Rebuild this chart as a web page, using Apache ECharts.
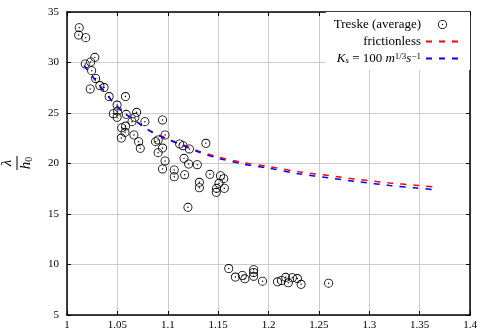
<!DOCTYPE html>
<html lang="en">
<head>
    <meta charset="UTF-8">
    <title>lambda over h0</title>
    <script src="https://cdn.jsdelivr.net/npm/echarts@6.0.0/dist/echarts.min.js"></script>
    <style>
        html, body { margin: 0; padding: 0; background: #fff; }
        #chart { width: 480px; height: 331px; }
    </style>
</head>
<body>
<div id="chart"></div>

<script>
    // measured points (Froude number, lambda / h0)
    var treskeX = [1.0121, 1.0116, 1.0186, 1.0181, 1.0235, 1.0276, 1.0245, 1.0284, 1.0230, 1.0326,
        1.0368, 1.0418, 1.0580, 1.0497, 1.0460, 1.0497, 1.0503, 1.0588, 1.0691, 1.0674,
        1.0645, 1.0543, 1.0582, 1.0576, 1.0539, 1.0664, 1.0773, 1.0711, 1.0727, 1.0948,
        1.0973, 1.0879, 1.0904, 1.0948, 1.0904, 1.0973, 1.1118, 1.1151, 1.1214, 1.1378,
        1.1161, 1.1207, 1.1293, 1.0948, 1.1064, 1.1064, 1.1168, 1.1200, 1.1313, 1.1313,
        1.1418, 1.1523, 1.1556, 1.1508, 1.1484, 1.1481, 1.1561,
        1.1605, 1.1671, 1.1740, 1.1765, 1.1852, 1.1851, 1.1852, 1.1940, 1.2089, 1.2128,
        1.2170, 1.2196, 1.2236, 1.2286, 1.2323, 1.2596];
    var treskeY = [33.45, 32.72, 32.46, 29.85, 30.05, 30.51, 29.19, 28.42, 27.38, 27.72,
        27.52, 26.63, 26.63, 25.79, 24.93, 24.57, 25.20, 24.87, 25.07, 24.57,
        24.14, 23.54, 23.71, 23.09, 22.52, 22.82, 24.14, 22.16, 21.50, 24.31,
        22.82, 22.16, 22.33, 21.53, 21.07, 20.25, 21.93, 21.76, 21.44, 22.00,
        20.51, 19.95, 19.88, 19.46, 19.36, 18.69, 18.89, 15.66, 18.14, 17.60,
        18.93, 18.79, 18.50, 18.04, 17.54, 17.15, 17.55,
        9.60, 8.76, 8.91, 8.58, 9.48, 9.21, 8.84, 8.35, 8.29, 8.42,
        8.73, 8.19, 8.69, 8.61, 8.04, 8.15];

    // theory curves
    var curveX = [1.017, 1.025, 1.035, 1.045, 1.055, 1.065, 1.075, 1.085, 1.1, 1.115,
        1.13, 1.15, 1.175, 1.2, 1.23, 1.26, 1.29, 1.32, 1.345, 1.366];
    var frictionlessY = [29.7, 28.65, 27.4, 26.15, 25.1, 24.45, 23.72, 23.1, 22.44, 21.85,
        21.25, 20.64, 20.08, 19.7, 19.18, 18.8, 18.42, 18.08, 17.85, 17.66];
    var ksY = [29.7, 28.65, 27.4, 26.15, 25.1, 24.44, 23.7, 23.07, 22.38, 21.78,
        21.16, 20.52, 19.94, 19.54, 18.98, 18.58, 18.18, 17.83, 17.59, 17.39];

    var xTicks = [1, 1.05, 1.1, 1.15, 1.2, 1.25, 1.3, 1.35, 1.4];
    var yTicks = [5, 10, 15, 20, 25, 30, 35];

    var serif = '"Liberation Serif", "DejaVu Serif", serif';
    // circle with a dot in the middle
    var dotCircle = 'path://M0,-10A10,10,0,1,1,0,10A10,10,0,1,1,0,-10Z' +
        'M0,-8.1A8.1,8.1,0,1,0,0,8.1A8.1,8.1,0,1,0,0,-8.1Z' +
        'M0,-1.6A1.6,1.6,0,1,1,0,1.6A1.6,1.6,0,1,1,0,-1.6Z';

    function pairs(xs, ys) {
        var out = [];
        for (var i = 0; i < xs.length; i++) {
            out.push([xs[i], ys[i]]);
        }
        return out;
    }

    var myChart = echarts.init(document.getElementById('chart'));
    var option = {
        animation: false,
        backgroundColor: '#fff',
        textStyle: {fontFamily: serif},
        grid: {left: 67, right: 7, top: 12, bottom: 16},
        xAxis: [{
            type: 'value',
            min: xTicks[0],
            max: xTicks[xTicks.length - 1],
            interval: 0.05,
            axisLine: {lineStyle: {color: '#000', width: 1.5}},
            axisTick: {inside: true, length: 4, lineStyle: {color: '#000'}},
            axisLabel: {color: '#000', fontSize: 11, fontFamily: serif, margin: 5},
            splitLine: {show: true, lineStyle: {color: '#cccccc', width: 1}}
        }, {
            type: 'value',
            position: 'top',
            min: xTicks[0],
            max: xTicks[xTicks.length - 1],
            interval: 0.05,
            axisLine: {lineStyle: {color: '#000', width: 1.5}},
            axisTick: {inside: true, length: 4, lineStyle: {color: '#000'}},
            axisLabel: {show: false},
            splitLine: {show: false}
        }],
        yAxis: [{
            type: 'value',
            min: yTicks[0],
            max: yTicks[yTicks.length - 1],
            interval: 5,
            axisLine: {show: true, lineStyle: {color: '#000', width: 1.5}},
            axisTick: {show: true, inside: true, length: 4, lineStyle: {color: '#000'}},
            axisLabel: {color: '#000', fontSize: 11, fontFamily: serif, margin: 8},
            splitLine: {show: true, lineStyle: {color: '#cccccc', width: 1}}
        }, {
            type: 'value',
            position: 'right',
            min: yTicks[0],
            max: yTicks[yTicks.length - 1],
            interval: 5,
            axisLine: {show: true, lineStyle: {color: '#000', width: 1.5}},
            axisTick: {show: true, inside: true, length: 4, lineStyle: {color: '#000'}},
            axisLabel: {show: false},
            splitLine: {show: false}
        }],
        legend: {
            data: [
                {name: 'Treske (average)'},
                {name: 'frictionless', itemStyle: {opacity: 0}},
                {name: 'Ks', itemStyle: {opacity: 0}}
            ],
            orient: 'vertical',
            align: 'right',
            right: 10,
            top: 12,
            padding: [6, 10, 5, 8],
            itemWidth: 33,
            itemHeight: 9,
            itemGap: 4,
            backgroundColor: '#fff',
            textStyle: {
                color: '#000', fontSize: 13, fontFamily: serif,
                rich: {
                    n: {fontSize: 13, fontFamily: serif, color: '#000'},
                    i: {fontSize: 13, fontFamily: serif, fontStyle: 'italic', color: '#000'},
                    sub: {fontSize: 9, fontFamily: serif, fontStyle: 'italic', color: '#000', verticalAlign: 'bottom'},
                    sup: {fontSize: 9, fontFamily: serif, color: '#000', verticalAlign: 'top'}
                }
            },
            formatter: function (name) {
                if (name === 'Ks') {
                    return '{i|K}{sub|s}{n| = 100 }{i|m}{sup|1/3}{i|s}{sup|−1}';
                }
                return name;
            }
        },
        graphic: [{
            type: 'group',
            x: 17,
            y: 163,
            rotation: Math.PI / 2,
            children: [{
                type: 'text',
                x: 0,
                y: -2,
                style: {text: 'λ', fontSize: 15, fontFamily: serif, fontStyle: 'italic',
                    fill: '#000', align: 'center', verticalAlign: 'bottom'}
            }, {
                type: 'line',
                shape: {x1: -7, y1: 0, x2: 7, y2: 0},
                style: {stroke: '#000', lineWidth: 1}
            }, {
                type: 'text',
                x: 0,
                y: 2,
                style: {
                    text: '{h|h}{s|0}',
                    align: 'center',
                    verticalAlign: 'top',
                    rich: {
                        h: {fontSize: 15, fontFamily: serif, fontStyle: 'italic', fill: '#000'},
                        s: {fontSize: 10, fontFamily: serif, fill: '#000', verticalAlign: 'bottom'}
                    }
                }
            }]
        }],
        series: [{
            name: 'Treske (average)',
            type: 'scatter',
            symbol: dotCircle,
            symbolSize: 9,
            itemStyle: {color: '#000', opacity: 1},
            data: pairs(treskeX, treskeY)
        }, {
            name: 'frictionless',
            type: 'line',
            symbol: 'none',
            smooth: 0.3,
            lineStyle: {color: '#ff0000', width: 1.5, type: [6, 7]},
            itemStyle: {color: '#ff0000'},
            data: pairs(curveX, frictionlessY)
        }, {
            name: 'Ks',
            type: 'line',
            symbol: 'none',
            smooth: 0.3,
            lineStyle: {color: '#0000ff', width: 1.5, type: [6, 7]},
            itemStyle: {color: '#0000ff'},
            data: pairs(curveX, ksY)
        }]
    };
    myChart.setOption(option);
</script>

</body>
</html>
